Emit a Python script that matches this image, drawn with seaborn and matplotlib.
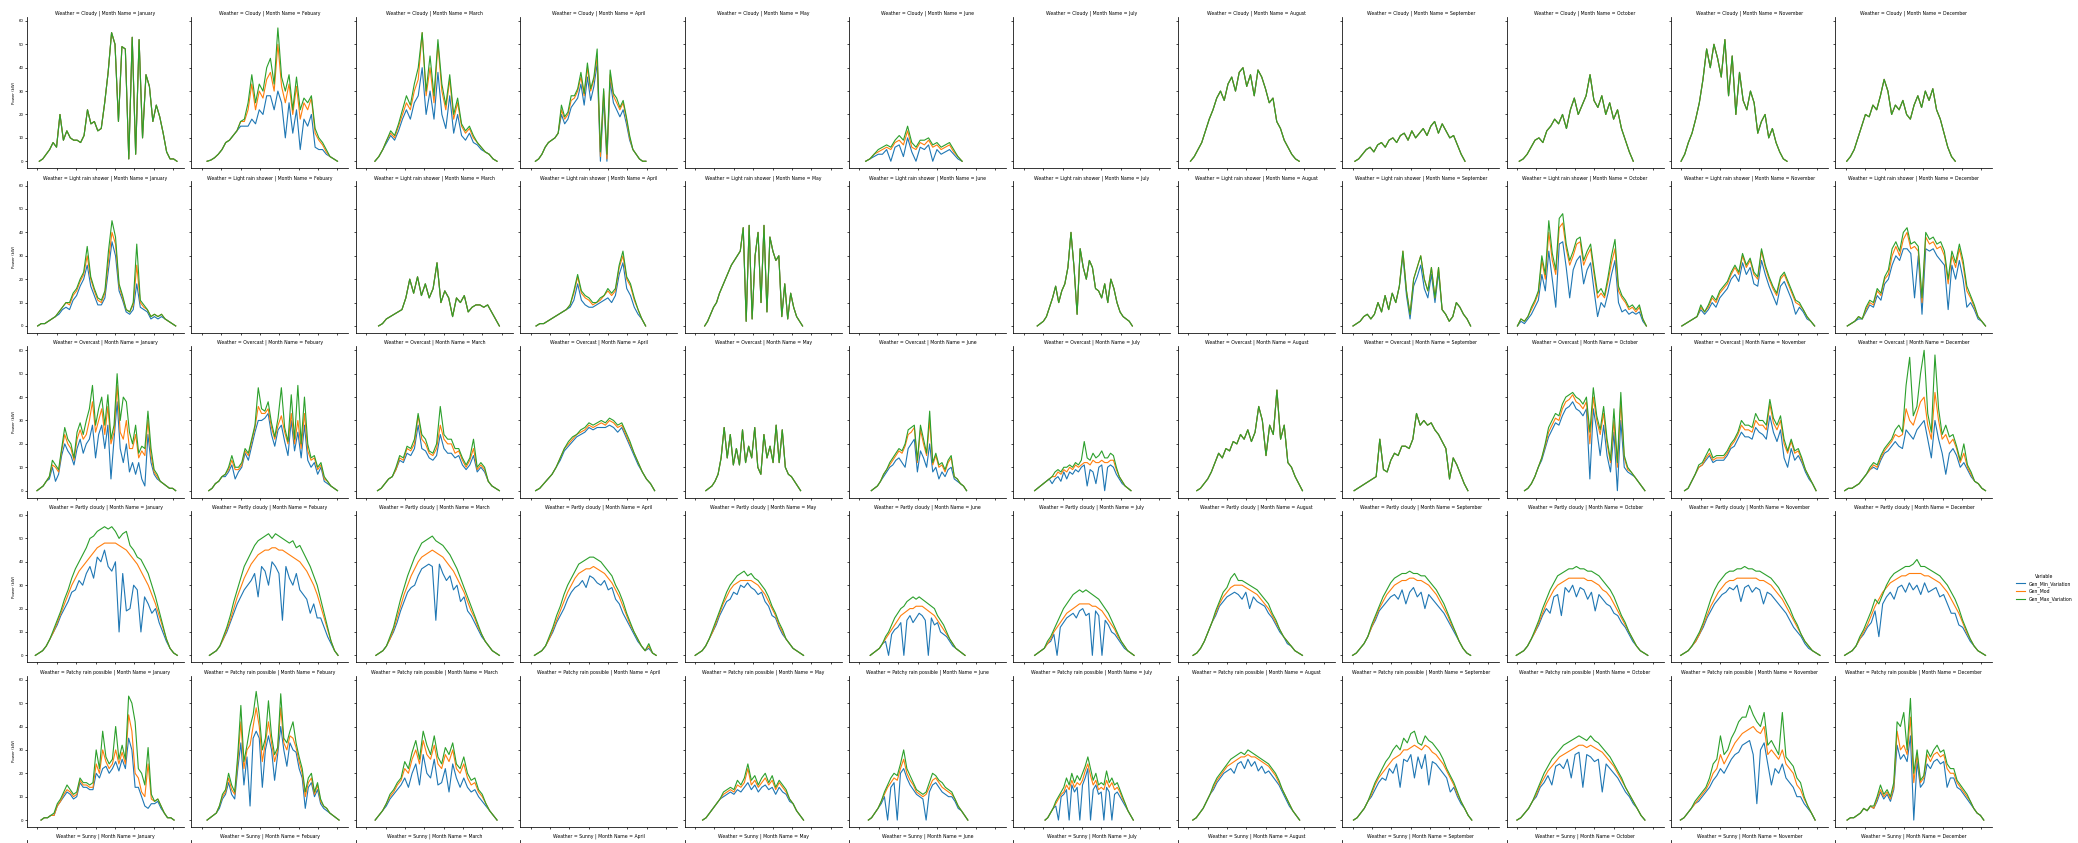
import numpy as np
import pandas as pd
import matplotlib
matplotlib.use("Agg")
import matplotlib.pyplot as plt
from matplotlib.lines import Line2D
import seaborn as sns

WEATHER = ["Cloudy", "Light rain shower", "Overcast", "Partly cloudy",
           "Patchy rain possible", "Sunny"]
MONTHS = ["January", "Febuary", "March", "April", "May", "June", "July",
          "August", "September", "October", "November", "December"]
VARIABLES = ["Gen_Min_Variation", "Gen_Mod", "Gen_Max_Variation"]
COLORS = ["#1f77b4", "#ff7f0e", "#2ca02c"]
Y_TICKS = [0, 10, 20, 30, 40, 50, 60]
X_TICKS = [6, 8, 10, 12, 14, 16, 18, 20]

# ---------------------------------------------------------------- Cloudy
CLOUDY_JAN_HOURS = (6.2, 20.4)
CLOUDY_JAN_MOD = [0, 1, 3, 5, 8, 6, 20, 9, 13, 10, 9, 9, 8, 11, 22, 16, 17, 13, 14, 25, 38, 55, 50, 17, 49,
                  48, 1, 53, 3, 52, 10, 37, 32, 17, 24, 19, 12, 4, 1, 1, 0]
CLOUDY_JAN_MIN = CLOUDY_JAN_MAX = CLOUDY_JAN_MOD

CLOUDY_FEB_HOURS = (6.55, 20.0)
CLOUDY_FEB_MIN = [0, 0.5, 1.5, 3, 5, 8, 9, 11, 13, 15, 15, 15, 18, 16, 22, 20, 28, 28, 22, 30, 25, 10, 25, 12,
                  22, 5, 18, 15, 20, 6, 5, 5, 3, 2, 1, 0]
CLOUDY_FEB_MOD = [0, 0.5, 1.5, 3, 5, 8, 9, 11, 13, 17, 17, 22, 33, 22, 30, 27, 35, 38, 30, 50, 32, 25, 33, 20,
                  32, 18, 25, 22, 27, 12, 9, 7, 4, 2, 1, 0]
CLOUDY_FEB_MAX = [0, 0.5, 1.5, 3, 5, 8, 9, 11, 13, 17, 18, 25, 37, 25, 33, 30, 40, 44, 33, 57, 36, 30, 37, 22,
                  36, 22, 27, 25, 28, 14, 10, 8, 5, 2, 1, 0]

CLOUDY_MAR_HOURS = (6.9, 19.5)
CLOUDY_MAR_MIN = [0, 2, 5, 8, 11, 9, 13, 18, 22, 18, 25, 28, 40, 20, 30, 18, 38, 20, 14, 28, 12, 20, 11, 9, 12,
                  8, 7, 5, 4, 3, 1, 0]
CLOUDY_MAR_MOD = [0, 2, 5, 9, 12, 10, 15, 20, 25, 22, 30, 35, 55, 28, 40, 25, 50, 30, 22, 35, 18, 25, 15, 12,
                  14, 10, 8, 6, 4, 3, 1, 0]
CLOUDY_MAR_MAX = [0, 2, 5, 9, 13, 11, 16, 22, 28, 24, 33, 40, 55, 30, 45, 28, 52, 33, 24, 37, 20, 27, 16, 13,
                  15, 11, 8, 6, 4, 3, 1, 0]

CLOUDY_APR_HOURS = (6.5, 17.9)
CLOUDY_APR_MIN = [0, 1, 3, 6, 8, 9, 10, 12, 20, 16, 18, 23, 25, 27, 33, 24, 36, 26, 32, 42, 0, 27, 0, 34, 25,
                  22, 19, 22, 16, 9, 5, 3, 1, 0, 0]
CLOUDY_APR_MOD = [0, 1, 3, 6, 8, 9, 10, 12, 22, 18, 20, 26, 27, 30, 36, 28, 40, 30, 35, 45, 2, 30, 1, 37, 28,
                  25, 22, 25, 18, 10, 5, 3, 1, 0, 0]
CLOUDY_APR_MAX = [0, 1, 3, 6, 8, 9, 10, 12, 24, 19, 21, 28, 28, 31, 38, 29, 42, 31, 36, 48, 4, 31, 3, 39, 29,
                  27, 23, 26, 19, 11, 5, 3, 1, 0, 0]

CLOUDY_JUN_HOURS = (6.65, 16.6)
CLOUDY_JUN_MIN = [0, 1, 2, 3, 3, 5, 0, 6, 7, 2, 10, 4, 0, 6, 5, 7, 0, 5, 3, 4, 5, 3, 1, 0]
CLOUDY_JUN_MOD = [0, 1, 3, 4, 5, 6, 5, 8, 9, 7, 13, 6, 5, 8, 7, 9, 6, 7, 5, 6, 7, 4, 2, 0]
CLOUDY_JUN_MAX = [0, 1, 3, 5, 6, 7, 6, 9, 11, 9, 15, 8, 6, 9, 9, 10, 7, 8, 6, 7, 8, 5, 2, 0]

CLOUDY_AUG_HOURS = (6.24, 17.46)
CLOUDY_AUG_MOD = [0, 2, 5, 8, 13, 18, 22, 27, 30, 26, 33, 36, 30, 38, 40, 32, 37, 28, 39, 36, 31, 25, 27, 17,
                  14, 9, 6, 3, 1, 0]
CLOUDY_AUG_MIN = CLOUDY_AUG_MAX = CLOUDY_AUG_MOD

CLOUDY_SEP_HOURS = (6.24, 17.6)
CLOUDY_SEP_MOD = [0, 1, 3, 5, 6, 4, 7, 8, 6, 9, 10, 8, 11, 12, 9, 13, 10, 12, 14, 11, 15, 17, 12, 16, 13, 10,
                  11, 7, 3, 0]
CLOUDY_SEP_MIN = CLOUDY_SEP_MAX = CLOUDY_SEP_MOD

CLOUDY_OCT_HOURS = (6.24, 18.0)
CLOUDY_OCT_MOD = [0, 1, 3, 6, 9, 10, 8, 13, 15, 18, 16, 20, 14, 22, 27, 20, 24, 28, 37, 26, 23, 28, 20, 25, 18,
                  22, 14, 9, 4, 0]
CLOUDY_OCT_MIN = CLOUDY_OCT_MAX = CLOUDY_OCT_MOD

CLOUDY_NOV_HOURS = (5.97, 16.9)
CLOUDY_NOV_MOD = [0, 3, 8, 12, 18, 25, 35, 48, 40, 50, 44, 36, 52, 28, 45, 20, 38, 26, 22, 30, 25, 12, 17, 20,
                  10, 14, 8, 4, 1, 0]
CLOUDY_NOV_MIN = CLOUDY_NOV_MAX = CLOUDY_NOV_MOD

CLOUDY_DEC_HOURS = (6.1, 17.3)
CLOUDY_DEC_MOD = [0, 2, 5, 10, 15, 20, 19, 24, 22, 28, 35, 30, 20, 24, 22, 26, 20, 18, 24, 28, 23, 30, 26, 31,
                  22, 18, 12, 6, 2, 0]
CLOUDY_DEC_MIN = CLOUDY_DEC_MAX = CLOUDY_DEC_MOD

# ----------------------------------------------------- Light rain shower
RAIN_JAN_HOURS = (6.03, 20.27)
RAIN_JAN_MIN = [0, 1, 1, 2, 3, 4, 5, 7, 8, 7, 11, 13, 17, 20, 26, 17, 13, 9, 9, 12, 24, 36, 30, 15, 11, 6, 5, 7,
                18, 8, 7, 6, 3, 4, 3, 4, 3, 2, 1, 0]
RAIN_JAN_MOD = [0, 1, 1, 2, 3, 4, 6, 8, 10, 9, 13, 15, 19, 22, 30, 20, 15, 11, 10, 14, 28, 40, 35, 17, 12, 7, 6,
                9, 26, 10, 8, 7, 4, 5, 4, 5, 3, 2, 1, 0]
RAIN_JAN_MAX = [0, 1, 1, 2, 3, 4, 6, 8, 10, 10, 14, 16, 20, 23, 34, 21, 16, 12, 11, 15, 32, 45, 38, 18, 13, 7, 6,
                10, 35, 11, 9, 7, 4, 5, 4, 5, 3, 2, 1, 0]

RAIN_MAR_HOURS = (7.28, 19.74)
RAIN_MAR_MOD = [0, 1, 3, 4, 5, 6, 7, 12, 20, 14, 21, 13, 18, 12, 16, 27, 10, 15, 12, 4, 12, 10, 13, 6, 8, 9, 9,
                8, 9, 6, 3, 0]
RAIN_MAR_MIN = RAIN_MAR_MAX = RAIN_MAR_MOD

RAIN_APR_HOURS = (6.57, 17.87)
RAIN_APR_MIN = [0, 1, 1, 2, 3, 4, 5, 6, 7, 8, 11, 18, 11, 9, 8, 8, 9, 10, 11, 12, 10, 13, 22, 27, 16, 13, 8, 5,
                3, 0]
RAIN_APR_MOD = [0, 1, 1, 2, 3, 4, 5, 6, 7, 9, 14, 21, 14, 12, 11, 9, 10, 11, 13, 15, 13, 15, 25, 30, 20, 17, 11,
                7, 3, 0]
RAIN_APR_MAX = [0, 1, 1, 2, 3, 4, 5, 6, 7, 9, 15, 22, 15, 13, 12, 10, 10, 12, 13, 16, 14, 16, 26, 32, 21, 18, 12,
                7, 3, 0]

RAIN_MAY_HOURS = (7.0, 17.1)
RAIN_MAY_MOD = [0, 2, 5, 8, 10, 14, 17, 20, 23, 26, 28, 30, 32, 42, 2, 43, 3, 30, 40, 10, 43, 6, 38, 32, 28, 30,
                4, 18, 3, 14, 8, 4, 2, 0]
RAIN_MAY_MIN = RAIN_MAY_MAX = RAIN_MAY_MOD

RAIN_JUL_HOURS = (7.39, 17.2)
RAIN_JUL_MOD = [0, 1, 2, 4, 8, 12, 17, 10, 15, 18, 25, 40, 25, 5, 33, 25, 20, 28, 25, 16, 15, 12, 18, 10, 20, 16,
                10, 6, 4, 3, 2, 0]
RAIN_JUL_MIN = RAIN_JUL_MAX = RAIN_JUL_MOD

RAIN_SEP_HOURS = (6.05, 18.18)
RAIN_SEP_MIN = [0, 1, 2, 4, 5, 3, 5, 10, 6, 13, 7, 14, 10, 17, 30, 13, 3, 17, 21, 26, 16, 12, 22, 10, 23, 7, 5,
                2, 4, 10, 8, 5, 3, 0]
RAIN_SEP_MOD = [0, 1, 2, 4, 5, 3, 5, 10, 6, 13, 7, 14, 10, 17, 32, 15, 5, 20, 25, 30, 20, 15, 25, 12, 25, 7, 5,
                2, 4, 10, 8, 5, 3, 0]
RAIN_SEP_MAX = RAIN_SEP_MOD

RAIN_OCT_HOURS = (6.05, 19.35)
RAIN_OCT_MIN = [0, 2, 1, 3, 5, 8, 11, 22, 15, 32, 20, 8, 35, 36, 25, 12, 24, 28, 30, 18, 24, 27, 15, 4, 10, 8,
                14, 22, 28, 10, 6, 7, 5, 6, 5, 6, 2, 0]
RAIN_OCT_MOD = [0, 3, 2, 4, 7, 10, 14, 28, 20, 40, 28, 22, 42, 44, 33, 26, 30, 35, 36, 26, 30, 33, 22, 12, 14, 12,
                19, 27, 33, 15, 12, 10, 7, 8, 6, 8, 3, 0]
RAIN_OCT_MAX = [0, 3, 2, 4, 8, 11, 15, 30, 22, 45, 31, 24, 46, 48, 35, 28, 32, 37, 38, 28, 32, 35, 24, 14, 16, 13,
                21, 30, 37, 17, 13, 11, 8, 9, 7, 9, 3, 0]

RAIN_NOV_HOURS = (6.05, 19.75)
RAIN_NOV_MIN = [0, 1, 2, 3, 4, 7, 5, 7, 10, 8, 12, 14, 16, 20, 22, 19, 27, 22, 25, 18, 17, 28, 22, 17, 13, 9, 17,
                19, 15, 11, 5, 8, 6, 3, 2, 0]
RAIN_NOV_MOD = [0, 1, 2, 3, 4, 8, 6, 8, 12, 10, 14, 16, 18, 22, 25, 22, 30, 25, 28, 22, 20, 32, 25, 20, 16, 13,
                20, 22, 18, 14, 10, 9, 7, 4, 2, 0]
RAIN_NOV_MAX = [0, 1, 2, 3, 4, 9, 6, 9, 13, 11, 15, 17, 19, 23, 26, 23, 31, 26, 29, 23, 21, 33, 26, 21, 17, 14,
                21, 23, 19, 15, 11, 10, 7, 4, 2, 0]

RAIN_DEC_HOURS = (6.16, 20.42)
RAIN_DEC_MIN = [0, 1, 2, 3, 3, 6, 9, 8, 13, 11, 18, 20, 26, 30, 28, 33, 33, 31, 12, 30, 5, 33, 32, 33, 30, 28, 26,
                7, 26, 20, 28, 20, 8, 10, 7, 3, 2, 0]
RAIN_DEC_MOD = [0, 1, 2, 4, 3, 7, 10, 9, 15, 13, 20, 22, 30, 34, 30, 37, 40, 33, 34, 32, 10, 38, 35, 36, 33, 34,
                30, 18, 30, 25, 33, 26, 15, 12, 8, 4, 2, 0]
RAIN_DEC_MAX = [0, 1, 2, 4, 3, 8, 11, 10, 16, 14, 21, 24, 33, 36, 32, 40, 42, 35, 36, 34, 12, 40, 37, 38, 35, 36,
                32, 20, 32, 27, 35, 28, 17, 13, 9, 4, 2, 0]

# -------------------------------------------------------------- Overcast
OVERCAST_JAN_HOURS = (5.96, 20.27)
OVERCAST_JAN_MIN = [0, 1, 2, 4, 5, 10, 4, 7, 15, 20, 17, 15, 11, 18, 22, 16, 20, 22, 28, 14, 24, 28, 18, 28, 5,
                    22, 38, 18, 12, 20, 8, 12, 7, 12, 5, 2, 24, 12, 7, 5, 4, 3, 2, 1, 1, 0]
OVERCAST_JAN_MOD = [0, 1, 2, 4, 6, 11, 10, 8, 17, 24, 20, 18, 13, 22, 26, 22, 24, 30, 38, 25, 30, 35, 24, 36, 20,
                    25, 45, 25, 22, 30, 18, 18, 24, 14, 17, 15, 30, 15, 8, 6, 4, 3, 2, 1, 1, 0]
OVERCAST_JAN_MAX = [0, 1, 2, 4, 6, 13, 11, 9, 18, 27, 22, 20, 14, 25, 29, 24, 30, 35, 45, 28, 35, 40, 28, 41, 22,
                    28, 50, 30, 40, 38, 25, 20, 28, 16, 19, 18, 34, 18, 9, 7, 4, 3, 2, 1, 1, 0]

OVERCAST_FEB_HOURS = (6.72, 20.0)
OVERCAST_FEB_MIN = [0, 1, 3, 4, 6, 6, 8, 11, 5, 8, 10, 16, 13, 19, 25, 30, 30, 31, 33, 24, 19, 26, 28, 21, 15, 30,
                    17, 25, 14, 28, 13, 10, 12, 7, 10, 4, 3, 2, 1, 0]
OVERCAST_FEB_MOD = [0, 1, 3, 4, 6, 7, 9, 13, 9, 9, 11, 17, 15, 21, 27, 36, 33, 33, 35, 27, 22, 28, 32, 25, 20, 33,
                    20, 30, 18, 33, 17, 13, 14, 9, 11, 5, 4, 2, 1, 0]
OVERCAST_FEB_MAX = [0, 1, 3, 4, 6, 7, 10, 15, 10, 10, 12, 18, 16, 22, 28, 44, 35, 34, 38, 29, 23, 31, 44, 27, 21,
                    41, 22, 45, 20, 40, 20, 14, 15, 10, 12, 6, 4, 2, 1, 0]

OVERCAST_MAR_HOURS = (7.17, 19.74)
OVERCAST_MAR_MIN = [0, 1, 3, 5, 6, 9, 13, 12, 16, 15, 18, 28, 18, 17, 14, 13, 15, 24, 18, 16, 16, 14, 15, 11, 9,
                    11, 15, 8, 10, 8, 4, 2, 1, 0]
OVERCAST_MAR_MOD = [0, 1, 3, 5, 6, 9, 14, 13, 18, 17, 20, 32, 22, 20, 16, 15, 18, 28, 22, 20, 20, 16, 17, 13, 10,
                    13, 18, 9, 11, 9, 4, 2, 1, 0]
OVERCAST_MAR_MAX = [0, 1, 3, 5, 6, 10, 15, 14, 19, 18, 22, 33, 24, 22, 17, 16, 20, 36, 24, 22, 22, 18, 18, 14, 11,
                    14, 22, 10, 12, 10, 4, 2, 1, 0]

OVERCAST_APR_HOURS = (6.52, 18.8)
OVERCAST_APR_MIN = [0, 1, 3, 5, 7, 10, 13, 17, 19, 21, 23, 24, 25, 27, 26, 27, 27, 27, 28, 27, 25, 27, 23, 19,
                    15, 11, 8, 5, 3, 0]
OVERCAST_APR_MOD = [0, 1, 3, 5, 7, 10, 14, 18, 20, 22, 24, 25, 26, 28, 27, 28, 29, 28, 30, 29, 27, 28, 24, 20,
                    16, 12, 8, 5, 3, 0]
OVERCAST_APR_MAX = [0, 1, 3, 5, 7, 10, 14, 18, 21, 23, 24, 26, 27, 29, 28, 29, 30, 29, 31, 30, 28, 29, 25, 21,
                    16, 12, 8, 5, 3, 0]

OVERCAST_MAY_HOURS = (7.12, 16.9)
OVERCAST_MAY_MOD = [0, 1, 2, 4, 7, 14, 27, 14, 24, 11, 18, 11, 26, 12, 19, 14, 27, 10, 7, 24, 14, 19, 12, 28, 12,
                    26, 10, 7, 6, 4, 2, 0]
OVERCAST_MAY_MIN = OVERCAST_MAY_MAX = OVERCAST_MAY_MOD

OVERCAST_JUN_HOURS = (7.23, 17.06)
OVERCAST_JUN_MIN = [0, 1, 2, 4, 6, 8, 10, 11, 13, 14, 12, 10, 18, 20, 22, 8, 17, 14, 10, 20, 8, 10, 5, 8, 6, 9,
                    10, 5, 4, 3, 2, 0]
OVERCAST_JUN_MOD = [0, 1, 2, 4, 7, 9, 11, 13, 15, 17, 16, 19, 24, 25, 27, 12, 26, 20, 15, 30, 11, 15, 10, 11, 8,
                    12, 14, 6, 5, 3, 2, 0]
OVERCAST_JUN_MAX = [0, 1, 2, 4, 7, 9, 12, 14, 16, 18, 17, 20, 26, 27, 28, 13, 28, 22, 16, 34, 12, 16, 11, 12, 9,
                    13, 15, 6, 5, 3, 2, 0]

OVERCAST_JUL_HOURS = (7.12, 17.06)
OVERCAST_JUL_MIN = [0, 1, 2, 3, 4, 5, 3, 5, 6, 4, 8, 5, 8, 7, 9, 8, 10, 11, 2, 9, 8, 3, 10, 11, 0, 10, 11, 10, 7,
                    5, 3, 2, 1, 0]
OVERCAST_JUL_MOD = [0, 1, 2, 3, 4, 5, 6, 6, 8, 7, 9, 8, 10, 9, 11, 10, 11, 12, 12, 11, 13, 12, 12, 13, 12, 12,
                    13, 13, 9, 6, 4, 2, 1, 0]
OVERCAST_JUL_MAX = [0, 1, 2, 3, 4, 5, 6, 8, 9, 8, 10, 10, 11, 10, 12, 11, 13, 21, 14, 13, 16, 14, 15, 17, 14, 14,
                    16, 15, 10, 6, 4, 2, 1, 0]

OVERCAST_AUG_HOURS = (6.89, 17.79)
OVERCAST_AUG_MOD = [0, 1, 3, 5, 8, 12, 16, 14, 18, 17, 21, 20, 24, 22, 26, 21, 25, 36, 30, 15, 28, 24, 43, 22, 28,
                    12, 10, 6, 3, 0]
OVERCAST_AUG_MIN = OVERCAST_AUG_MAX = OVERCAST_AUG_MOD

OVERCAST_SEP_HOURS = (6.16, 17.9)
OVERCAST_SEP_MOD = [0, 1, 2, 3, 4, 5, 6, 22, 9, 8, 13, 16, 15, 19, 19, 18, 22, 33, 28, 30, 28, 29, 26, 24, 21, 18,
                    5, 14, 11, 7, 3, 0]
OVERCAST_SEP_MIN = OVERCAST_SEP_MAX = OVERCAST_SEP_MOD

OVERCAST_OCT_HOURS = (6.78, 19.2)
OVERCAST_OCT_MIN = [0, 1, 3, 6, 10, 13, 18, 23, 26, 29, 28, 32, 35, 36, 38, 35, 34, 32, 35, 5, 35, 26, 15, 28, 15,
                    8, 25, 0, 30, 10, 8, 7, 6, 4, 2, 0]
OVERCAST_OCT_MOD = [0, 1, 3, 6, 10, 14, 19, 25, 28, 31, 30, 35, 38, 39, 41, 38, 37, 35, 38, 20, 40, 30, 24, 33, 20,
                    12, 30, 10, 38, 14, 9, 8, 6, 4, 2, 0]
OVERCAST_OCT_MAX = [0, 1, 3, 6, 10, 14, 20, 27, 30, 33, 32, 37, 40, 41, 42, 40, 39, 37, 40, 25, 44, 32, 26, 36, 22,
                    13, 35, 12, 42, 15, 10, 8, 6, 4, 2, 0]

OVERCAST_NOV_HOURS = (6.33, 19.9)
OVERCAST_NOV_MIN = [0, 1, 4, 7, 10, 11, 13, 15, 12, 13, 13, 13, 15, 18, 19, 22, 25, 23, 23, 22, 27, 25, 24, 22, 32,
                    25, 21, 26, 14, 10, 18, 13, 15, 12, 8, 5, 3, 0]
OVERCAST_NOV_MOD = [0, 1, 4, 7, 10, 11, 14, 16, 13, 14, 14, 14, 16, 19, 21, 24, 28, 26, 26, 25, 30, 28, 28, 26, 37,
                    29, 26, 30, 20, 16, 21, 16, 17, 13, 9, 6, 3, 0]
OVERCAST_NOV_MAX = [0, 1, 4, 7, 11, 12, 15, 18, 14, 15, 15, 15, 17, 20, 22, 25, 30, 28, 28, 27, 33, 30, 30, 28, 39,
                    31, 28, 32, 22, 17, 22, 17, 18, 14, 9, 6, 3, 0]

OVERCAST_DEC_HOURS = (5.89, 20.42)
OVERCAST_DEC_MIN = [0, 1, 1, 2, 3, 5, 7, 9, 10, 9, 13, 16, 17, 19, 21, 19, 18, 26, 24, 22, 26, 28, 30, 22, 14, 30,
                    22, 16, 7, 16, 18, 15, 10, 12, 9, 6, 4, 3, 1, 0]
OVERCAST_DEC_MOD = [0, 1, 1, 2, 3, 5, 7, 9, 11, 10, 14, 17, 19, 21, 24, 23, 24, 35, 30, 28, 33, 38, 40, 28, 22, 42,
                    30, 22, 24, 20, 22, 18, 12, 16, 10, 7, 4, 3, 1, 0]
OVERCAST_DEC_MAX = [0, 1, 1, 2, 3, 5, 7, 10, 12, 11, 15, 18, 20, 22, 26, 28, 25, 45, 57, 32, 36, 50, 60, 33, 25, 58,
                    35, 24, 28, 23, 24, 19, 13, 20, 11, 8, 4, 3, 1, 0]

# --------------------------------------------------------- Partly cloudy
PARTLY_JAN_HOURS = (5.79, 20.44)
PARTLY_JAN_MIN = [0, 1, 2, 4, 7, 10, 13, 17, 20, 23, 27, 28, 32, 30, 35, 38, 33, 42, 40, 45, 38, 36, 40, 10, 35,
                  19, 20, 30, 28, 10, 25, 22, 18, 20, 14, 10, 6, 3, 1, 0]
PARTLY_JAN_MOD = [0, 1, 2, 4, 7, 10, 14, 18, 22, 26, 30, 33, 36, 38, 40, 42, 44, 46, 47, 48, 48, 48, 48, 47, 46,
                  45, 43, 41, 39, 36, 33, 30, 26, 22, 17, 12, 7, 3, 1, 0]
PARTLY_JAN_MAX = [0, 1, 2, 4, 7, 11, 15, 19, 24, 28, 33, 37, 40, 43, 46, 50, 51, 53, 54, 55, 54, 55, 53, 50, 52,
                  53, 47, 45, 42, 41, 38, 35, 30, 25, 19, 13, 7, 3, 1, 0]

PARTLY_FEB_HOURS = (6.79, 20.06)
PARTLY_FEB_MIN = [0, 1, 2, 4, 7, 10, 14, 18, 22, 25, 28, 30, 32, 35, 25, 38, 36, 30, 40, 38, 35, 15, 38, 33, 30,
                  35, 28, 26, 24, 18, 22, 16, 16, 12, 8, 5, 2, 0]
PARTLY_FEB_MOD = [0, 1, 2, 4, 7, 11, 15, 20, 25, 29, 33, 36, 39, 41, 43, 44, 45, 45, 46, 46, 45, 45, 44, 43, 42,
                  41, 40, 38, 36, 33, 30, 26, 21, 16, 11, 6, 2, 0]
PARTLY_FEB_MAX = [0, 1, 2, 4, 8, 12, 17, 23, 28, 33, 38, 41, 44, 47, 49, 50, 51, 52, 50, 52, 51, 50, 49, 48, 49,
                  46, 47, 44, 41, 38, 34, 30, 24, 18, 12, 6, 2, 0]

PARTLY_MAR_HOURS = (7.0, 19.74)
PARTLY_MAR_MIN = [0, 1, 2, 4, 7, 10, 14, 19, 23, 27, 29, 30, 34, 37, 38, 39, 38, 15, 39, 35, 32, 34, 28, 30, 23,
                  25, 19, 17, 14, 11, 8, 6, 4, 2, 1, 0]
PARTLY_MAR_MOD = [0, 1, 2, 4, 7, 11, 16, 21, 26, 30, 34, 37, 40, 42, 43, 44, 45, 44, 43, 42, 40, 38, 36, 33, 30,
                  27, 23, 19, 16, 12, 9, 6, 4, 2, 1, 0]
PARTLY_MAR_MAX = [0, 1, 2, 4, 8, 12, 18, 24, 29, 34, 38, 42, 45, 48, 49, 50, 51, 49, 48, 47, 45, 43, 40, 37, 33,
                  29, 25, 21, 17, 13, 9, 6, 4, 2, 1, 0]

PARTLY_APR_HOURS = (6.4, 18.96)
PARTLY_APR_MIN = [0, 1, 2, 4, 7, 10, 14, 17, 20, 24, 27, 29, 30, 32, 29, 34, 33, 31, 30, 32, 28, 29, 24, 22, 18,
                  15, 12, 9, 6, 4, 2, 3, 1, 0]
PARTLY_APR_MOD = [0, 1, 2, 4, 7, 11, 15, 19, 23, 27, 30, 33, 35, 36, 37, 37, 38, 37, 36, 35, 33, 31, 28, 25, 21,
                  17, 13, 10, 7, 4, 2, 4, 1, 0]
PARTLY_APR_MAX = [0, 1, 2, 4, 8, 12, 17, 21, 26, 30, 33, 36, 39, 40, 41, 42, 42, 41, 40, 38, 36, 34, 30, 27, 23,
                  18, 14, 10, 7, 4, 2, 5, 1, 0]

PARTLY_MAY_HOURS = (6.02, 17.2)
PARTLY_MAY_MIN = [0, 1, 2, 4, 7, 10, 13, 17, 20, 23, 24, 27, 26, 30, 29, 31, 29, 28, 26, 27, 23, 21, 17, 16, 12,
                  9, 7, 5, 3, 2, 1, 0]
PARTLY_MAY_MOD = [0, 1, 2, 4, 7, 10, 14, 18, 22, 25, 28, 30, 31, 32, 32, 32, 32, 31, 30, 28, 26, 23, 20, 17, 13,
                  10, 7, 5, 3, 2, 1, 0]
PARTLY_MAY_MAX = [0, 1, 2, 4, 7, 11, 15, 19, 23, 27, 30, 32, 34, 35, 36, 34, 35, 33, 32, 30, 28, 25, 21, 18, 14,
                  11, 7, 5, 3, 2, 1, 0]

PARTLY_JUN_HOURS = (7.12, 16.9)
PARTLY_JUN_MIN = [0, 1, 2, 3, 5, 6, 0, 9, 11, 12, 14, 0, 15, 17, 14, 16, 18, 17, 15, 0, 16, 13, 14, 10, 9, 8, 6,
                  4, 3, 2, 1, 0]
PARTLY_JUN_MOD = [0, 1, 2, 3, 5, 7, 9, 11, 13, 15, 17, 18, 19, 20, 20, 21, 21, 21, 20, 19, 18, 17, 15, 13, 11, 9,
                  7, 5, 3, 2, 1, 0]
PARTLY_JUN_MAX = [0, 1, 2, 3, 5, 8, 10, 13, 16, 18, 20, 21, 23, 24, 25, 24, 25, 24, 23, 22, 21, 20, 17, 15, 13,
                  10, 7, 5, 3, 2, 1, 0]

PARTLY_JUL_HOURS = (7.12, 17.38)
PARTLY_JUL_MIN = [0, 1, 2, 3, 5, 6, 9, 0, 12, 14, 16, 17, 18, 16, 19, 20, 17, 18, 0, 19, 17, 0, 15, 13, 10, 9, 7,
                  5, 3, 2, 1, 0]
PARTLY_JUL_MOD = [0, 1, 2, 3, 5, 7, 10, 12, 14, 16, 18, 19, 20, 21, 22, 22, 22, 22, 21, 21, 20, 19, 17, 15, 13,
                  11, 8, 6, 4, 2, 1, 0]
PARTLY_JUL_MAX = [0, 1, 2, 3, 6, 8, 11, 14, 17, 20, 22, 24, 26, 27, 28, 27, 28, 27, 26, 25, 24, 22, 20, 18, 15,
                  12, 9, 6, 4, 2, 1, 0]

PARTLY_AUG_HOURS = (6.5, 17.79)
PARTLY_AUG_MIN = [0, 1, 3, 6, 10, 14, 17, 21, 23, 25, 26, 27, 26, 24, 27, 20, 25, 23, 22, 21, 18, 16, 13, 10, 8,
                  5, 4, 2, 1, 0]
PARTLY_AUG_MOD = [0, 1, 3, 6, 10, 14, 18, 22, 25, 27, 29, 30, 30, 30, 29, 28, 27, 26, 24, 22, 20, 17, 14, 11, 8,
                  6, 4, 2, 1, 0]
PARTLY_AUG_MAX = [0, 1, 3, 6, 10, 14, 19, 23, 27, 29, 33, 35, 32, 32, 31, 30, 29, 28, 26, 24, 22, 18, 15, 11, 8,
                  6, 4, 2, 1, 0]

PARTLY_SEP_HOURS = (6.0, 18.18)
PARTLY_SEP_MIN = [0, 1, 3, 5, 8, 12, 15, 19, 21, 23, 25, 26, 24, 28, 22, 27, 29, 25, 27, 20, 26, 24, 22, 20, 18,
                  15, 12, 9, 6, 3, 1, 0]
PARTLY_SEP_MOD = [0, 1, 3, 5, 8, 12, 16, 20, 23, 26, 28, 30, 31, 32, 32, 33, 33, 32, 32, 31, 30, 28, 26, 23, 20,
                  17, 13, 10, 6, 3, 1, 0]
PARTLY_SEP_MAX = [0, 1, 3, 5, 8, 13, 17, 21, 25, 28, 31, 33, 34, 35, 35, 36, 35, 35, 34, 34, 32, 30, 28, 25, 22,
                  18, 14, 10, 6, 3, 1, 0]

PARTLY_OCT_HOURS = (5.93, 19.5)
PARTLY_OCT_MIN = [0, 1, 2, 4, 7, 10, 13, 17, 20, 18, 25, 26, 17, 29, 27, 30, 25, 29, 28, 24, 27, 19, 26, 24, 22,
                  21, 18, 17, 14, 12, 9, 6, 4, 2, 1, 0]
PARTLY_OCT_MOD = [0, 1, 2, 4, 7, 10, 14, 18, 22, 25, 28, 30, 31, 32, 33, 33, 33, 33, 33, 32, 32, 31, 30, 28, 27,
                  25, 22, 19, 16, 13, 10, 7, 4, 2, 1, 0]
PARTLY_OCT_MAX = [0, 1, 2, 4, 7, 11, 15, 20, 24, 28, 31, 34, 35, 36, 37, 37, 38, 37, 37, 36, 36, 35, 34, 32, 30,
                  28, 25, 21, 17, 14, 10, 7, 4, 2, 1, 0]

PARTLY_NOV_HOURS = (5.93, 20.3)
PARTLY_NOV_MIN = [0, 1, 2, 4, 6, 9, 12, 16, 19, 22, 24, 26, 27, 29, 28, 30, 23, 29, 30, 27, 29, 28, 22, 27, 26,
                  24, 22, 20, 18, 15, 12, 10, 8, 5, 3, 2, 1, 0]
PARTLY_NOV_MOD = [0, 1, 2, 4, 6, 9, 13, 17, 21, 24, 27, 29, 31, 32, 32, 33, 33, 33, 33, 33, 33, 32, 32, 31, 30,
                  28, 26, 24, 21, 18, 15, 12, 9, 6, 4, 2, 1, 0]
PARTLY_NOV_MAX = [0, 1, 2, 4, 7, 10, 14, 19, 24, 28, 31, 33, 35, 36, 36, 37, 37, 38, 37, 37, 36, 36, 35, 34, 33,
                  31, 29, 26, 23, 20, 16, 13, 9, 6, 4, 2, 1, 0]

PARTLY_DEC_HOURS = (5.88, 20.42)
PARTLY_DEC_MIN = [0, 1, 2, 4, 7, 9, 12, 14, 19, 8, 22, 25, 27, 24, 29, 30, 27, 31, 28, 30, 26, 31, 27, 28, 29,
                  25, 26, 22, 18, 18, 13, 12, 9, 6, 4, 2, 1, 0]
PARTLY_DEC_MOD = [0, 1, 2, 4, 7, 10, 13, 17, 21, 24, 27, 29, 31, 32, 33, 34, 34, 35, 35, 35, 35, 34, 34, 33, 32,
                  31, 29, 27, 24, 21, 18, 14, 10, 7, 4, 2, 1, 0]
PARTLY_DEC_MAX = [0, 1, 2, 4, 8, 11, 15, 19, 24, 22, 26, 30, 33, 35, 36, 37, 38, 38, 39, 41, 38, 38, 37, 36, 35,
                  34, 32, 30, 27, 24, 20, 15, 11, 7, 4, 2, 1, 0]

# -------------------------------------------------- Patchy rain possible
PATCHY_JAN_HOURS = (6.38, 20.1)
PATCHY_JAN_MIN = [0, 1, 1, 2, 2, 6, 8, 10, 12, 11, 9, 10, 16, 14, 14, 13, 13, 20, 18, 22, 23, 20, 22, 25, 21, 26,
                  22, 35, 30, 14, 14, 10, 6, 5, 7, 7, 8, 5, 3, 1, 1, 0]
PATCHY_JAN_MOD = [0, 1, 1, 2, 2, 6, 8, 11, 13, 12, 10, 11, 17, 15, 15, 14, 14, 24, 20, 30, 25, 22, 24, 30, 24, 29,
                  24, 45, 38, 20, 18, 12, 10, 24, 9, 8, 9, 6, 3, 1, 1, 0]
PATCHY_JAN_MAX = [0, 1, 1, 2, 3, 7, 9, 12, 15, 13, 11, 12, 18, 16, 16, 15, 16, 30, 22, 38, 27, 24, 26, 40, 26, 32,
                  26, 53, 50, 42, 22, 20, 15, 31, 11, 8, 9, 6, 3, 1, 1, 0]

PATCHY_FEB_HOURS = (6.55, 20.16)
PATCHY_FEB_MIN = [0, 1, 2, 3, 5, 9, 11, 16, 11, 9, 22, 33, 15, 27, 6, 35, 38, 35, 14, 30, 36, 30, 17, 28, 40, 30,
                  23, 33, 30, 29, 22, 18, 5, 14, 16, 10, 13, 7, 5, 4, 3, 2, 1, 0]
PATCHY_FEB_MOD = [0, 1, 2, 3, 6, 10, 12, 18, 13, 11, 25, 42, 22, 30, 32, 40, 48, 40, 25, 33, 42, 33, 25, 30, 48,
                  33, 30, 36, 35, 31, 25, 20, 10, 16, 18, 11, 15, 8, 6, 5, 3, 2, 1, 0]
PATCHY_FEB_MAX = [0, 1, 2, 3, 6, 11, 13, 20, 15, 12, 28, 49, 25, 32, 40, 45, 55, 45, 30, 35, 51, 36, 28, 31, 54,
                  35, 33, 38, 42, 33, 27, 22, 12, 18, 20, 12, 16, 9, 6, 5, 3, 2, 1, 0]

PATCHY_MAR_HOURS = (6.93, 19.5)
PATCHY_MAR_MIN = [0, 2, 4, 6, 9, 11, 13, 15, 18, 14, 20, 24, 15, 28, 20, 18, 26, 15, 16, 22, 12, 24, 18, 14, 18,
                  14, 12, 13, 10, 8, 6, 4, 2, 0]
PATCHY_MAR_MOD = [0, 2, 4, 7, 10, 12, 15, 17, 22, 20, 26, 30, 24, 34, 28, 26, 32, 24, 22, 28, 25, 30, 22, 20, 24,
                  18, 15, 16, 12, 10, 7, 4, 2, 0]
PATCHY_MAR_MAX = [0, 2, 4, 7, 11, 13, 16, 18, 25, 22, 29, 34, 26, 38, 32, 28, 36, 27, 24, 31, 28, 33, 24, 22, 27,
                  20, 17, 18, 13, 11, 7, 4, 2, 0]

PATCHY_MAY_HOURS = (6.79, 17.2)
PATCHY_MAY_MIN = [0, 1, 3, 5, 7, 9, 10, 11, 12, 11, 13, 12, 14, 16, 13, 15, 12, 14, 15, 13, 14, 11, 14, 12, 11, 8,
                  7, 4, 2, 0]
PATCHY_MAY_MOD = [0, 1, 3, 5, 7, 9, 11, 12, 13, 12, 15, 14, 16, 22, 15, 17, 14, 16, 18, 15, 17, 13, 16, 14, 12, 9,
                  7, 4, 2, 0]
PATCHY_MAY_MAX = [0, 1, 3, 5, 7, 9, 12, 13, 14, 13, 17, 15, 18, 24, 17, 19, 15, 18, 20, 16, 19, 14, 17, 15, 13, 9,
                  7, 4, 2, 0]

PATCHY_JUN_HOURS = (6.93, 17.19)
PATCHY_JUN_MIN = [0, 1, 3, 5, 7, 10, 0, 14, 16, 0, 20, 22, 18, 15, 13, 11, 10, 9, 0, 12, 15, 16, 14, 12, 11, 10,
                  10, 8, 5, 4, 2, 0]
PATCHY_JUN_MOD = [0, 1, 3, 5, 8, 11, 14, 16, 18, 17, 22, 26, 20, 17, 15, 12, 11, 10, 11, 14, 17, 18, 16, 14, 13,
                  12, 11, 9, 6, 4, 2, 0]
PATCHY_JUN_MAX = [0, 1, 3, 5, 8, 12, 15, 18, 20, 19, 24, 30, 22, 19, 16, 13, 12, 11, 12, 16, 20, 19, 17, 16, 14,
                  13, 12, 9, 6, 4, 2, 0]

PATCHY_JUL_HOURS = (8.2, 17.3)
PATCHY_JUL_MIN = [0, 1, 3, 5, 6, 0, 10, 11, 13, 0, 15, 12, 14, 0, 15, 18, 22, 0, 13, 15, 11, 12, 0, 14, 12, 0, 11,
                  12, 10, 8, 6, 4, 2, 0]
PATCHY_JUL_MOD = [0, 1, 3, 5, 7, 9, 11, 12, 15, 13, 17, 14, 16, 15, 17, 21, 24, 19, 15, 17, 13, 14, 13, 17, 14, 16,
                  13, 14, 12, 9, 7, 4, 2, 0]
PATCHY_JUL_MAX = [0, 1, 3, 5, 8, 10, 12, 14, 18, 15, 20, 16, 19, 17, 20, 23, 27, 22, 17, 20, 15, 16, 15, 21, 16, 18,
                  15, 16, 13, 10, 7, 4, 2, 0]

PATCHY_AUG_HOURS = (6.48, 17.5)
PATCHY_AUG_MIN = [0, 1, 3, 5, 8, 11, 13, 16, 18, 20, 21, 22, 20, 24, 25, 22, 26, 23, 25, 21, 23, 20, 21, 19, 17,
                  15, 12, 9, 6, 4, 2, 0]
PATCHY_AUG_MOD = [0, 1, 3, 5, 8, 11, 14, 17, 19, 21, 23, 24, 25, 26, 27, 27, 28, 27, 27, 26, 25, 24, 23, 21, 19,
                  16, 13, 10, 7, 4, 2, 0]
PATCHY_AUG_MAX = [0, 1, 3, 5, 8, 11, 15, 18, 20, 22, 24, 26, 27, 28, 29, 28, 30, 29, 28, 27, 26, 25, 24, 22, 20,
                  17, 13, 10, 7, 4, 2, 0]

PATCHY_SEP_HOURS = (6.1, 18.3)
PATCHY_SEP_MIN = [0, 1, 3, 5, 8, 10, 13, 16, 18, 17, 22, 20, 24, 14, 26, 25, 28, 18, 27, 22, 28, 15, 25, 24, 22,
                  20, 18, 12, 14, 10, 7, 5, 2, 0]
PATCHY_SEP_MOD = [0, 1, 3, 5, 8, 11, 15, 18, 20, 22, 24, 26, 27, 28, 30, 30, 31, 32, 31, 30, 32, 31, 29, 28, 26,
                  24, 21, 18, 15, 11, 8, 5, 2, 0]
PATCHY_SEP_MAX = [0, 1, 3, 5, 8, 12, 16, 19, 22, 25, 27, 30, 32, 30, 35, 33, 37, 38, 33, 32, 36, 34, 33, 31, 29,
                  26, 22, 19, 16, 12, 8, 5, 2, 0]

PATCHY_OCT_HOURS = (6.0, 19.2)
PATCHY_OCT_MIN = [0, 1, 3, 5, 8, 10, 14, 16, 19, 15, 23, 24, 22, 26, 18, 28, 29, 14, 28, 27, 25, 26, 12, 24, 22,
                  20, 18, 15, 12, 10, 7, 5, 2, 0]
PATCHY_OCT_MOD = [0, 1, 3, 5, 8, 11, 15, 18, 21, 23, 25, 27, 28, 29, 30, 31, 32, 32, 31, 32, 31, 30, 29, 27, 25,
                  23, 20, 17, 14, 11, 8, 5, 2, 0]
PATCHY_OCT_MAX = [0, 1, 3, 5, 8, 12, 16, 20, 23, 26, 28, 30, 32, 33, 34, 35, 36, 35, 34, 36, 34, 33, 31, 29, 27,
                  24, 21, 18, 14, 11, 8, 5, 2, 0]

PATCHY_NOV_HOURS = (5.9, 19.8)
PATCHY_NOV_MIN = [0, 1, 3, 5, 7, 8, 10, 12, 14, 17, 19, 22, 20, 23, 26, 28, 29, 32, 33, 34, 28, 7, 30, 33, 24, 15,
                  22, 20, 24, 18, 16, 14, 10, 10, 7, 5, 3, 0]
PATCHY_NOV_MOD = [0, 1, 3, 5, 7, 9, 11, 13, 16, 20, 22, 28, 24, 27, 30, 33, 35, 37, 38, 39, 40, 38, 37, 40, 28, 30,
                  28, 26, 30, 24, 22, 20, 15, 13, 9, 6, 3, 0]
PATCHY_NOV_MAX = [0, 1, 3, 5, 8, 10, 12, 14, 18, 24, 26, 36, 28, 30, 35, 38, 42, 44, 44, 49, 45, 42, 40, 46, 32, 34,
                  31, 28, 46, 27, 25, 23, 18, 16, 10, 6, 3, 0]

PATCHY_DEC_HOURS = (6.14, 20.24)
PATCHY_DEC_MIN = [0, 1, 1, 2, 3, 5, 4, 6, 5, 8, 12, 9, 11, 8, 13, 32, 26, 28, 25, 36, 0, 25, 14, 16, 24, 22, 25,
                  26, 24, 25, 14, 18, 18, 14, 13, 11, 9, 7, 5, 3, 2, 0]
PATCHY_DEC_MOD = [0, 1, 1, 2, 3, 5, 4, 6, 5, 9, 13, 10, 12, 9, 14, 38, 30, 32, 28, 44, 16, 28, 16, 18, 28, 25, 28,
                  29, 27, 28, 22, 20, 20, 16, 14, 12, 10, 8, 5, 3, 2, 0]
PATCHY_DEC_MAX = [0, 1, 1, 2, 3, 5, 4, 6, 6, 10, 15, 11, 13, 10, 16, 42, 40, 46, 30, 52, 20, 30, 17, 19, 30, 27, 30,
                  32, 29, 30, 24, 22, 22, 17, 15, 13, 11, 8, 5, 3, 2, 0]

# (weather, month, hour span, min, mod, max) for every facet that has readings
FACETS = [
    ("Cloudy", "January", CLOUDY_JAN_HOURS, CLOUDY_JAN_MIN, CLOUDY_JAN_MOD, CLOUDY_JAN_MAX),
    ("Cloudy", "Febuary", CLOUDY_FEB_HOURS, CLOUDY_FEB_MIN, CLOUDY_FEB_MOD, CLOUDY_FEB_MAX),
    ("Cloudy", "March", CLOUDY_MAR_HOURS, CLOUDY_MAR_MIN, CLOUDY_MAR_MOD, CLOUDY_MAR_MAX),
    ("Cloudy", "April", CLOUDY_APR_HOURS, CLOUDY_APR_MIN, CLOUDY_APR_MOD, CLOUDY_APR_MAX),
    ("Cloudy", "June", CLOUDY_JUN_HOURS, CLOUDY_JUN_MIN, CLOUDY_JUN_MOD, CLOUDY_JUN_MAX),
    ("Cloudy", "August", CLOUDY_AUG_HOURS, CLOUDY_AUG_MIN, CLOUDY_AUG_MOD, CLOUDY_AUG_MAX),
    ("Cloudy", "September", CLOUDY_SEP_HOURS, CLOUDY_SEP_MIN, CLOUDY_SEP_MOD, CLOUDY_SEP_MAX),
    ("Cloudy", "October", CLOUDY_OCT_HOURS, CLOUDY_OCT_MIN, CLOUDY_OCT_MOD, CLOUDY_OCT_MAX),
    ("Cloudy", "November", CLOUDY_NOV_HOURS, CLOUDY_NOV_MIN, CLOUDY_NOV_MOD, CLOUDY_NOV_MAX),
    ("Cloudy", "December", CLOUDY_DEC_HOURS, CLOUDY_DEC_MIN, CLOUDY_DEC_MOD, CLOUDY_DEC_MAX),
    ("Light rain shower", "January", RAIN_JAN_HOURS, RAIN_JAN_MIN, RAIN_JAN_MOD, RAIN_JAN_MAX),
    ("Light rain shower", "March", RAIN_MAR_HOURS, RAIN_MAR_MIN, RAIN_MAR_MOD, RAIN_MAR_MAX),
    ("Light rain shower", "April", RAIN_APR_HOURS, RAIN_APR_MIN, RAIN_APR_MOD, RAIN_APR_MAX),
    ("Light rain shower", "May", RAIN_MAY_HOURS, RAIN_MAY_MIN, RAIN_MAY_MOD, RAIN_MAY_MAX),
    ("Light rain shower", "July", RAIN_JUL_HOURS, RAIN_JUL_MIN, RAIN_JUL_MOD, RAIN_JUL_MAX),
    ("Light rain shower", "September", RAIN_SEP_HOURS, RAIN_SEP_MIN, RAIN_SEP_MOD, RAIN_SEP_MAX),
    ("Light rain shower", "October", RAIN_OCT_HOURS, RAIN_OCT_MIN, RAIN_OCT_MOD, RAIN_OCT_MAX),
    ("Light rain shower", "November", RAIN_NOV_HOURS, RAIN_NOV_MIN, RAIN_NOV_MOD, RAIN_NOV_MAX),
    ("Light rain shower", "December", RAIN_DEC_HOURS, RAIN_DEC_MIN, RAIN_DEC_MOD, RAIN_DEC_MAX),
    ("Overcast", "January", OVERCAST_JAN_HOURS, OVERCAST_JAN_MIN, OVERCAST_JAN_MOD, OVERCAST_JAN_MAX),
    ("Overcast", "Febuary", OVERCAST_FEB_HOURS, OVERCAST_FEB_MIN, OVERCAST_FEB_MOD, OVERCAST_FEB_MAX),
    ("Overcast", "March", OVERCAST_MAR_HOURS, OVERCAST_MAR_MIN, OVERCAST_MAR_MOD, OVERCAST_MAR_MAX),
    ("Overcast", "April", OVERCAST_APR_HOURS, OVERCAST_APR_MIN, OVERCAST_APR_MOD, OVERCAST_APR_MAX),
    ("Overcast", "May", OVERCAST_MAY_HOURS, OVERCAST_MAY_MIN, OVERCAST_MAY_MOD, OVERCAST_MAY_MAX),
    ("Overcast", "June", OVERCAST_JUN_HOURS, OVERCAST_JUN_MIN, OVERCAST_JUN_MOD, OVERCAST_JUN_MAX),
    ("Overcast", "July", OVERCAST_JUL_HOURS, OVERCAST_JUL_MIN, OVERCAST_JUL_MOD, OVERCAST_JUL_MAX),
    ("Overcast", "August", OVERCAST_AUG_HOURS, OVERCAST_AUG_MIN, OVERCAST_AUG_MOD, OVERCAST_AUG_MAX),
    ("Overcast", "September", OVERCAST_SEP_HOURS, OVERCAST_SEP_MIN, OVERCAST_SEP_MOD, OVERCAST_SEP_MAX),
    ("Overcast", "October", OVERCAST_OCT_HOURS, OVERCAST_OCT_MIN, OVERCAST_OCT_MOD, OVERCAST_OCT_MAX),
    ("Overcast", "November", OVERCAST_NOV_HOURS, OVERCAST_NOV_MIN, OVERCAST_NOV_MOD, OVERCAST_NOV_MAX),
    ("Overcast", "December", OVERCAST_DEC_HOURS, OVERCAST_DEC_MIN, OVERCAST_DEC_MOD, OVERCAST_DEC_MAX),
    ("Partly cloudy", "January", PARTLY_JAN_HOURS, PARTLY_JAN_MIN, PARTLY_JAN_MOD, PARTLY_JAN_MAX),
    ("Partly cloudy", "Febuary", PARTLY_FEB_HOURS, PARTLY_FEB_MIN, PARTLY_FEB_MOD, PARTLY_FEB_MAX),
    ("Partly cloudy", "March", PARTLY_MAR_HOURS, PARTLY_MAR_MIN, PARTLY_MAR_MOD, PARTLY_MAR_MAX),
    ("Partly cloudy", "April", PARTLY_APR_HOURS, PARTLY_APR_MIN, PARTLY_APR_MOD, PARTLY_APR_MAX),
    ("Partly cloudy", "May", PARTLY_MAY_HOURS, PARTLY_MAY_MIN, PARTLY_MAY_MOD, PARTLY_MAY_MAX),
    ("Partly cloudy", "June", PARTLY_JUN_HOURS, PARTLY_JUN_MIN, PARTLY_JUN_MOD, PARTLY_JUN_MAX),
    ("Partly cloudy", "July", PARTLY_JUL_HOURS, PARTLY_JUL_MIN, PARTLY_JUL_MOD, PARTLY_JUL_MAX),
    ("Partly cloudy", "August", PARTLY_AUG_HOURS, PARTLY_AUG_MIN, PARTLY_AUG_MOD, PARTLY_AUG_MAX),
    ("Partly cloudy", "September", PARTLY_SEP_HOURS, PARTLY_SEP_MIN, PARTLY_SEP_MOD, PARTLY_SEP_MAX),
    ("Partly cloudy", "October", PARTLY_OCT_HOURS, PARTLY_OCT_MIN, PARTLY_OCT_MOD, PARTLY_OCT_MAX),
    ("Partly cloudy", "November", PARTLY_NOV_HOURS, PARTLY_NOV_MIN, PARTLY_NOV_MOD, PARTLY_NOV_MAX),
    ("Partly cloudy", "December", PARTLY_DEC_HOURS, PARTLY_DEC_MIN, PARTLY_DEC_MOD, PARTLY_DEC_MAX),
    ("Patchy rain possible", "January", PATCHY_JAN_HOURS, PATCHY_JAN_MIN, PATCHY_JAN_MOD, PATCHY_JAN_MAX),
    ("Patchy rain possible", "Febuary", PATCHY_FEB_HOURS, PATCHY_FEB_MIN, PATCHY_FEB_MOD, PATCHY_FEB_MAX),
    ("Patchy rain possible", "March", PATCHY_MAR_HOURS, PATCHY_MAR_MIN, PATCHY_MAR_MOD, PATCHY_MAR_MAX),
    ("Patchy rain possible", "May", PATCHY_MAY_HOURS, PATCHY_MAY_MIN, PATCHY_MAY_MOD, PATCHY_MAY_MAX),
    ("Patchy rain possible", "June", PATCHY_JUN_HOURS, PATCHY_JUN_MIN, PATCHY_JUN_MOD, PATCHY_JUN_MAX),
    ("Patchy rain possible", "July", PATCHY_JUL_HOURS, PATCHY_JUL_MIN, PATCHY_JUL_MOD, PATCHY_JUL_MAX),
    ("Patchy rain possible", "August", PATCHY_AUG_HOURS, PATCHY_AUG_MIN, PATCHY_AUG_MOD, PATCHY_AUG_MAX),
    ("Patchy rain possible", "September", PATCHY_SEP_HOURS, PATCHY_SEP_MIN, PATCHY_SEP_MOD, PATCHY_SEP_MAX),
    ("Patchy rain possible", "October", PATCHY_OCT_HOURS, PATCHY_OCT_MIN, PATCHY_OCT_MOD, PATCHY_OCT_MAX),
    ("Patchy rain possible", "November", PATCHY_NOV_HOURS, PATCHY_NOV_MIN, PATCHY_NOV_MOD, PATCHY_NOV_MAX),
    ("Patchy rain possible", "December", PATCHY_DEC_HOURS, PATCHY_DEC_MIN, PATCHY_DEC_MOD, PATCHY_DEC_MAX),
]

# long-format table: one row per reading
records = []
for weather, month, (t_start, t_end), v_min, v_mod, v_max in FACETS:
    for variable, values in zip(VARIABLES, (v_min, v_mod, v_max)):
        hours = np.linspace(t_start, t_end, len(values))
        for h, v in zip(hours, values):
            records.append((weather, month, variable, h, v))
df = pd.DataFrame(records, columns=["Weather", "Month Name", "Variable", "Hour", "Power"])

TITLE_SIZE = 3.35
TICK_SIZE = 2.8
LINE_WIDTH = 0.8
plt.rcParams.update({
    "font.family": "DejaVu Sans",
    "axes.linewidth": 0.55,
    "xtick.major.size": 1.6,
    "ytick.major.size": 1.6,
    "xtick.major.width": 0.5,
    "ytick.major.width": 0.5,
    "xtick.major.pad": 1.0,
    "ytick.major.pad": 1.0,
    "xtick.labelsize": TICK_SIZE,
    "ytick.labelsize": TICK_SIZE,
    "axes.labelsize": TICK_SIZE,
    "axes.labelpad": 2.0,
})

g = sns.FacetGrid(df, row="Weather", col="Month Name", row_order=WEATHER, col_order=MONTHS,
                  height=1.5, aspect=1.04, sharex=True, sharey=True, despine=True)
g.map_dataframe(sns.lineplot, x="Hour", y="Power", hue="Variable", hue_order=VARIABLES,
                palette=COLORS, linewidth=LINE_WIDTH, estimator=None, legend=False)
g.set(xlim=(4.93, 21.13), ylim=(-3.0, 61.8), xticks=X_TICKS, yticks=Y_TICKS)
g.set_axis_labels("", "Power (kW)")

for ax in g.axes.flat:
    ax.set_xticklabels([])
    ax.set_title(ax.get_title(), fontsize=TITLE_SIZE, pad=1.7)

# the last facet row runs past the lower edge of the canvas: only its titles show
for ax in g.axes[-1, :]:
    ax.set_ylabel("")
    ax.tick_params(axis="y", labelleft=False)

fig = g.figure
fig.set_size_inches(20.78, 8.43)
fig.subplots_adjust(left=0.013, right=0.9588, top=0.9802, bottom=-0.1765,
                    wspace=0.0471, hspace=0.0866)

handles = [Line2D([], [], color=c, linewidth=LINE_WIDTH) for c in COLORS]
fig.legend(handles, VARIABLES, title="Variable", loc="center left",
           bbox_to_anchor=(0.9692, 0.3025), frameon=False, fontsize=3.3,
           title_fontsize=3.3, borderpad=0.0, handlelength=2.0, handletextpad=0.8,
           labelspacing=0.5)

fig.savefig("out.png", dpi=100, facecolor="white")
